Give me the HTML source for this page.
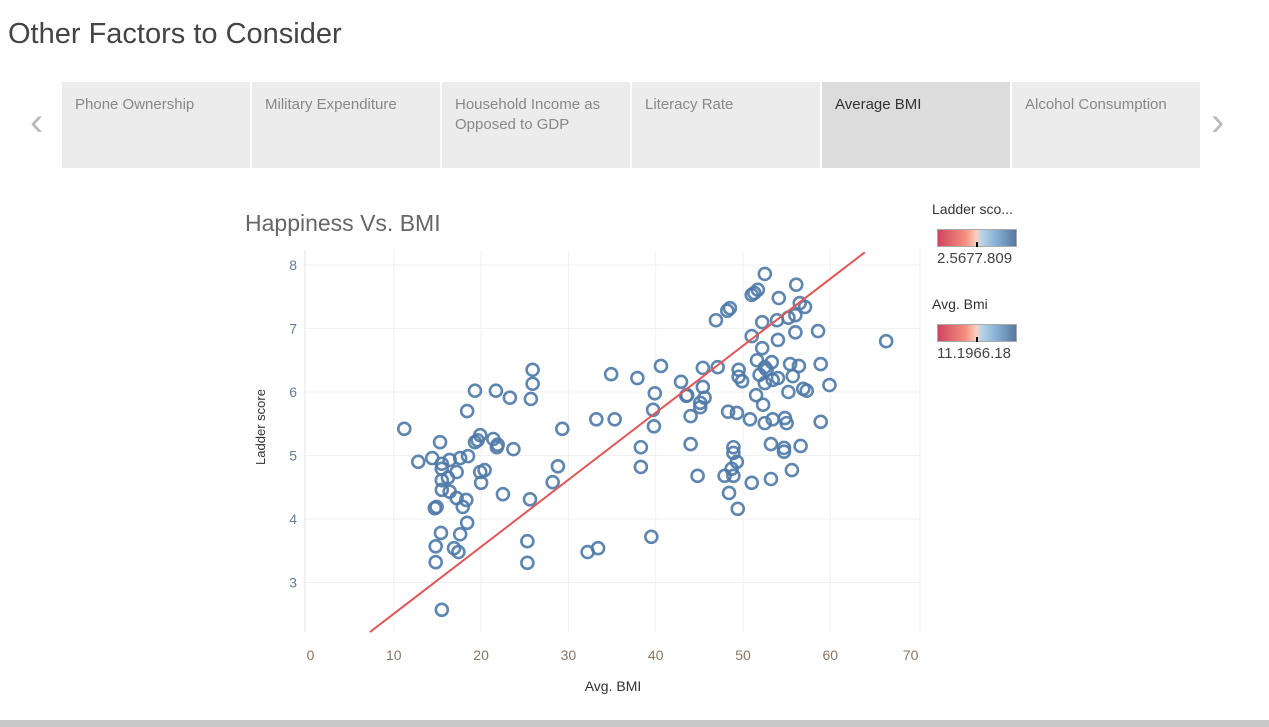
<!DOCTYPE html>
<html><head><meta charset="utf-8"><style>
body{margin:0;width:1269px;height:727px;background:#fff;font-family:"Liberation Sans",sans-serif;position:relative;overflow:hidden}
.t{position:absolute;white-space:nowrap}
.tab{position:absolute;top:82px;height:86px;width:188px;background:#ececec;color:#888;font-size:15px;box-sizing:border-box;padding:13px 13px;line-height:20px}
</style></head><body>
<div class="t" style="left:8px;top:18px;font-size:29px;color:#444">Other Factors to Consider</div>
<div class="t" style="left:30px;top:100px;font-size:40px;color:#bbb">&#8249;</div>
<div class="t" style="left:1211px;top:100px;font-size:40px;color:#bbb">&#8250;</div>
<div class="tab" style="left:62px">Phone Ownership</div>
<div class="tab" style="left:252px">Military Expenditure</div>
<div class="tab" style="left:442px">Household Income as Opposed to GDP</div>
<div class="tab" style="left:632px">Literacy Rate</div>
<div class="tab" style="left:822px;background:#dcdcdc;color:#333">Average BMI</div>
<div class="tab" style="left:1012px">Alcohol Consumption</div>
<div class="t" style="left:245px;top:210px;font-size:23px;color:#666">Happiness Vs. BMI</div>
<div class="t" style="left:932px;top:201px;font-size:14px;color:#333">Ladder sco...</div>
<div style="position:absolute;left:937px;top:229px;width:78px;height:16px;border:1px solid #aaa;background:linear-gradient(90deg,#d0445f,#f48f7e 35%,#fbd2c2 50%,#b9d6e8 55%,#86afd2 75%,#55799f)"></div>
<div style="position:absolute;left:976px;top:242px;width:2px;height:5px;background:#000"></div>
<div class="t" style="left:937px;top:250px;font-size:15px;color:#444">2.5677.809</div>
<div class="t" style="left:932px;top:296px;font-size:14px;color:#333">Avg. Bmi</div>
<div style="position:absolute;left:937px;top:324px;width:78px;height:16px;border:1px solid #aaa;background:linear-gradient(90deg,#d0445f,#f48f7e 35%,#fbd2c2 50%,#b9d6e8 55%,#86afd2 75%,#55799f)"></div>
<div style="position:absolute;left:976px;top:337px;width:2px;height:5px;background:#000"></div>
<div class="t" style="left:937px;top:345px;font-size:15px;color:#444">11.1966.18</div>
<div style="position:absolute;left:0;top:720px;width:1269px;height:7px;background:#c8c8c8"></div>
<svg id="chart" width="1269" height="727" style="position:absolute;left:0;top:0"></svg>
<script>
const xTicks=[0,10,20,30,40,50,60,70];
const yTicks=[3,4,5,6,7,8];
const bmi=[11.2,15.3,12.8,14.4,15.5,16.4,17.6,18.5,15.5,17.2,15.5,16.2,15.5,16.4,17.2,18.3,14.9,14.7,17.9,18.4,15.4,17.6,14.8,16.9,17.4,14.8,15.5,19.3,21.7,23.3,25.7,25.9,25.9,18.4,19.9,19.3,19.6,21.4,21.8,21.9,23.7,19.9,20.4,20.0,22.5,25.6,28.8,28.2,29.3,33.2,25.3,25.3,32.2,33.4,
34.9,37.9,40.6,39.9,39.7,39.8,38.3,38.3,35.3,42.9,43.6,43.5,45.1,45.6,45.4,44.0,45.1,44.0,44.8,45.4,47.1,46.9,48.2,48.5,48.3,49.3,49.5,49.5,49.9,50.8,51.0,52.2,51.0,51.3,51.7,52.5,54.1,56.1,53.9,55.2,56.0,56.5,57.1,56.0,54.0,58.6,52.2,51.6,53.3,52.5,51.9,52.7,52.5,53.4,54.0,55.7,55.4,56.4,58.9,59.9,55.2,56.9,57.3,51.5,52.3,52.5,53.4,54.8,55.0,58.9,53.2,54.7,54.7,56.6,55.6,53.2,51.0,48.9,48.9,49.3,48.7,47.9,48.9,48.4,49.4,39.5,66.4];
const ladder=[5.42,5.21,4.9,4.96,4.87,4.93,4.96,4.99,4.79,4.74,4.61,4.65,4.46,4.43,4.33,4.30,4.19,4.17,4.19,3.94,3.78,3.76,3.57,3.54,3.48,3.32,2.57,6.02,6.02,5.91,5.89,6.13,6.35,5.70,5.32,5.21,5.24,5.26,5.13,5.17,5.10,4.74,4.77,4.57,4.39,4.31,4.83,4.58,5.42,5.57,3.65,3.31,3.48,3.54,
6.28,6.22,6.41,5.98,5.72,5.46,5.13,4.82,5.57,6.16,5.95,5.94,5.83,5.91,6.08,5.62,5.76,5.18,4.68,6.38,6.39,7.13,7.28,7.32,5.69,5.67,6.35,6.24,6.17,5.57,6.88,7.10,7.53,7.56,7.61,7.86,7.48,7.69,7.13,7.17,7.21,7.40,7.34,6.94,6.82,6.96,6.69,6.50,6.47,6.39,6.27,6.35,6.14,6.19,6.22,6.25,6.44,6.41,6.44,6.11,6.00,6.05,6.02,5.95,5.80,5.51,5.57,5.59,5.51,5.53,5.18,5.12,5.06,5.15,4.77,4.63,4.57,5.13,5.04,4.90,4.79,4.68,4.68,4.41,4.16,3.72,6.80];
const trend=[1.453,0.1055]; // intercept, slope
const X=v=>306.5+8.73*v, Y=v=>392-63.5*(v-6);
const L=303,R=920,T=250,B=632;
const svg=document.getElementById('chart');const NS='http://www.w3.org/2000/svg';
function mk(tag,at,txt){const e=document.createElementNS(NS,tag);for(const k in at)e.setAttribute(k,at[k]);if(txt!=null)e.textContent=txt;svg.appendChild(e);return e;}
xTicks.forEach(t=>{if(t>0&&t<70){const g=mk('line',{x1:X(t),x2:X(t),y1:T,y2:B,stroke:'#f0f0f0'});}
const off=t===0?4:(t===70?-7:0);
const l=mk('text',{x:X(t)+off,y:660,'text-anchor':'middle','font-size':14,fill:'#8a7565'},t);});
yTicks.forEach(t=>{const g=mk('line',{x1:L,x2:R,y1:Y(t),y2:Y(t),stroke:'#f0f0f0'});
const l=mk('text',{x:297,y:Y(t)+5,'text-anchor':'end','font-size':14,fill:'#5b7fa6'},t);});
const ax=mk('line',{x1:305,x2:305,y1:T,y2:B,stroke:'#e6e6e6'});
const ax2=mk('line',{x1:R,x2:R,y1:T,y2:B,stroke:'#f0f0f0'});
bmi.forEach((b,i)=>{const c=mk('circle',{cx:X(b),cy:Y(ladder[i]),r:6,fill:'none',stroke:'#4e79a7','stroke-width':2.6,opacity:0.9});

});
let x0=(2.22-trend[0])/trend[1], x1=(8.2-trend[0])/trend[1];
const tl=mk('line',{x1:X(x0),y1:Y(trend[0]+trend[1]*x0),x2:X(x1),y2:Y(trend[0]+trend[1]*x1),stroke:'#e15759','stroke-width':2});


const xt=mk('text',{x:613,y:691,'text-anchor':'middle','font-size':14,fill:'#333'},'Avg. BMI');
const yt=mk('text',{x:0,y:0,'text-anchor':'middle','font-size':13,fill:'#333',transform:'translate(265,427) rotate(-90)'},'Ladder score');
</script>
</body></html>
